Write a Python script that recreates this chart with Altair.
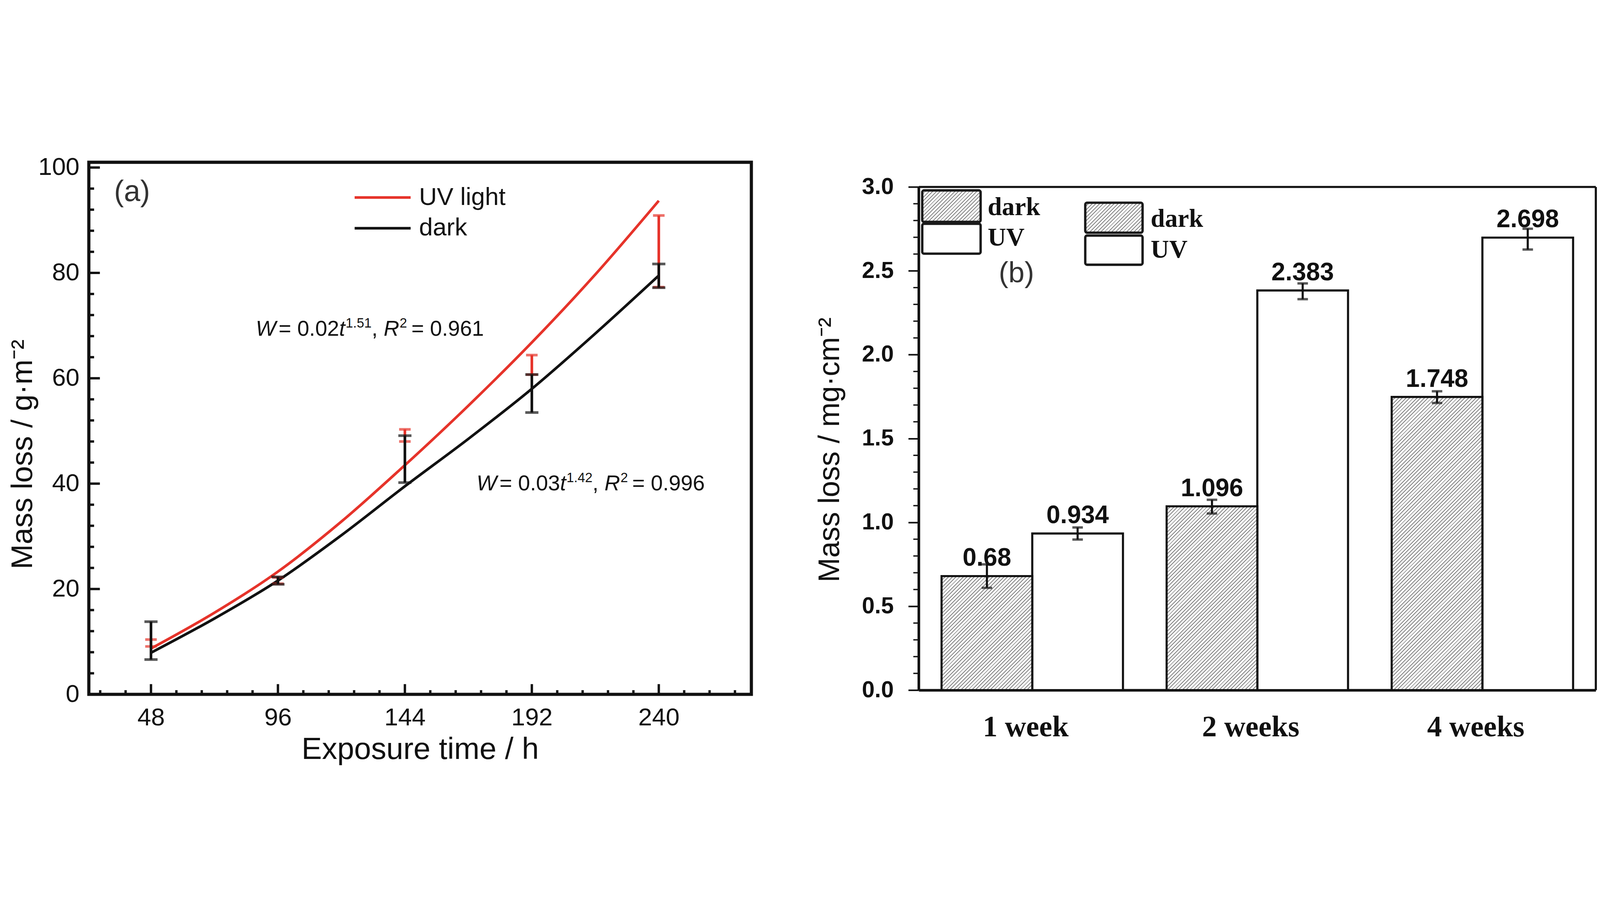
import altair as alt
import pandas as pd

# ---------------- panel (a) data ----------------
t_fit = [48, 72, 96, 120, 144, 168, 192, 216, 240]
uv_fit = [8.7, 15.5, 23.3, 32.8, 43.5, 54.8, 66.8, 79.7, 93.7]
dark_fit = [7.9, 14.4, 21.6, 30.2, 39.5, 48.5, 58.0, 68.5, 79.5]

t_meas = [48, 96, 144, 192, 240]
uv_low = [9.1, 21.0, 48.0, 60.7, 77.3]
uv_high = [10.4, 22.2, 50.3, 64.4, 90.9]
dark_low = [6.6, 20.9, 40.2, 53.5, 77.2]
dark_high = [13.8, 22.3, 49.1, 60.7, 81.7]

xa_major = [48, 96, 144, 192, 240]
xa_minor = [28.8, 38.4, 57.6, 67.2, 76.8, 86.4, 105.6, 115.2, 124.8, 134.4,
            153.6, 163.2, 172.8, 182.4, 201.6, 211.2, 220.8, 230.4, 249.6,
            259.2, 268.8]
ya_major = [0, 20, 40, 60, 80, 100]
ya_minor = [4, 8, 12, 16, 24, 28, 32, 36, 44, 48, 52, 56, 64, 68, 72, 76,
            84, 88, 92, 96]

# annotation anchors (data coordinates: t, W)
ann1_pos = (87.6, 68.1)
ann2_pos = (171.1, 38.7)

# ---------------- panel (b) data ----------------
weeks = ["1 week", "2 weeks", "4 weeks"]
series_b = ["dark", "UV"]
dark_vals = [0.68, 1.096, 1.748]
uv_vals = [0.934, 2.383, 2.698]
dark_labels = ["0.68", "1.096", "1.748"]
uv_labels = ["0.934", "2.383", "2.698"]
dark_lo = [0.61, 1.053, 1.712]
dark_hi = [0.75, 1.135, 1.782]
uv_lo = [0.898, 2.331, 2.627]
uv_hi = [0.970, 2.425, 2.751]
yb_major = [0.0, 0.5, 1.0, 1.5, 2.0, 2.5, 3.0]
yb_minor = [0.1, 0.2, 0.3, 0.4, 0.6, 0.7, 0.8, 0.9, 1.1, 1.2, 1.3, 1.4,
            1.6, 1.7, 1.8, 1.9, 2.1, 2.2, 2.3, 2.4, 2.6, 2.7, 2.8, 2.9]
yb_frame = [0.0, 3.0]

# ---------------- styling constants ----------------
WA, HA = 2520, 2025
WB, HB = 2575, 2009          # panel b area incl. 94 px above the 3.0 frame
TOPB = 94                    # px between panel top and the 3.0 frame line
YMAX_B = 3.0 * HB / (HB - TOPB)
RED = "#e6332a"
BLK = "#111111"
SANS = "Liberation Sans, Arial, sans-serif"
NARROW = "Liberation Sans Narrow, Arial Narrow, Liberation Sans, sans-serif"
SERIF = "Liberation Serif, Times New Roman, serif"

PAD_IN, PAD_OUT = 0.194, 0.101


def hatch(w, h, period=14.0, duty=0.3, color="#858585"):
    L = (w * w + h * h) / (w + h)
    n = (w + h) / period
    stops = []
    k = 0
    while k < n:
        a = round(k / n, 5)
        b = round(min((k + duty) / n, 1.0), 5)
        c = round(min((k + 1) / n, 1.0), 5)
        stops += [{"offset": a, "color": color}, {"offset": b, "color": color},
                  {"offset": b, "color": "#ffffff"}, {"offset": c, "color": "#ffffff"}]
        k += 1
    return alt.LinearGradient(gradient="linear", x1=0, y1=0,
                              x2=round(w / L, 5), y2=round(h / L, 5),
                              stops=stops)


# ================= panel (a) =================
xs_a = alt.Scale(domain=[24.5, 275], nice=False, zero=False)
ys_a = alt.Scale(domain=[0, 101], nice=False, zero=False)
ax_xa = alt.Axis(values=xa_major, title="Exposure time / h", grid=False,
                 ticks=False, tickSize=0, domain=False, labelFont=NARROW,
                 labelFontSize=94, labelColor=BLK, labelPadding=44,
                 titleFont=SANS, titleFontSize=116, titleFontWeight="normal",
                 titleColor=BLK, titlePadding=16)
ax_ya = alt.Axis(values=ya_major, title="Mass loss / g·m⁻²", grid=False,
                 ticks=False, tickSize=0, domain=False, labelFont=NARROW,
                 labelFontSize=94, labelColor=BLK, labelPadding=36,
                 titleFont=SANS, titleFontSize=114, titleFontWeight="normal",
                 titleColor=BLK, titlePadding=0, titleY=1111)


def XA(field):
    return alt.X(field, type="quantitative", scale=xs_a, axis=ax_xa)


def YA(field):
    return alt.Y(field, type="quantitative", scale=ys_a, axis=ax_ya)


fit_uv = pd.DataFrame({"t": t_fit, "w": uv_fit})
fit_dk = pd.DataFrame({"t": t_fit, "w": dark_fit})
err_uv = pd.DataFrame({"t": t_meas, "w": uv_low, "w2": uv_high})
err_dk = pd.DataFrame({"t": t_meas, "w": dark_low, "w2": dark_high})

line_uv = alt.Chart(fit_uv).mark_line(color=RED, strokeWidth=10, interpolate="monotone").encode(
    x=XA("t"), y=YA("w"))
line_dk = alt.Chart(fit_dk).mark_line(color=BLK, strokeWidth=10, interpolate="monotone").encode(
    x=XA("t"), y=YA("w"))


def errbars(df, color, cap):
    r = alt.Chart(df).mark_rule(color=color, strokeWidth=10).encode(
        x=XA("t"), y=YA("w"), y2="w2:Q")
    lo = alt.Chart(df).mark_tick(color=color, orient="horizontal", size=cap, thickness=10).encode(
        x=XA("t"), y=YA("w"))
    hi = alt.Chart(df).mark_tick(color=color, orient="horizontal", size=cap, thickness=10).encode(
        x=XA("t"), y=YA("w2"))
    return [r, lo, hi]


tick_ya_maj = alt.Chart(pd.DataFrame({"w": ya_major})).mark_rule(color=BLK, strokeWidth=9).encode(
    y=YA("w"), x=alt.value(0), x2=alt.value(42))
tick_ya_min = alt.Chart(pd.DataFrame({"w": ya_minor})).mark_rule(color=BLK, strokeWidth=9).encode(
    y=YA("w"), x=alt.value(0), x2=alt.value(20))
tick_xa_maj = alt.Chart(pd.DataFrame({"t": xa_major})).mark_rule(color=BLK, strokeWidth=9).encode(
    x=XA("t"), y=alt.value(HA), y2=alt.value(HA - 39))
tick_xa_min = alt.Chart(pd.DataFrame({"t": xa_minor})).mark_rule(color=BLK, strokeWidth=9).encode(
    x=XA("t"), y=alt.value(HA), y2=alt.value(HA - 16))

one = alt.Data(values=[{"k": 1}])
leg_a = [
    alt.Chart(one).mark_rule(color=RED, strokeWidth=10).encode(
        x=alt.value(1011), x2=alt.value(1224), y=alt.value(134)),
    alt.Chart(one).mark_rule(color=BLK, strokeWidth=10).encode(
        x=alt.value(1011), x2=alt.value(1224), y=alt.value(251)),
    alt.Chart(one).mark_text(align="left", baseline="middle", font=SANS, fontSize=94, color=BLK).encode(
        x=alt.value(1256), y=alt.value(134), text=alt.value("UV light")),
    alt.Chart(one).mark_text(align="left", baseline="middle", font=SANS, fontSize=94, color=BLK).encode(
        x=alt.value(1256), y=alt.value(251), text=alt.value("dark")),
    alt.Chart(one).mark_text(align="left", baseline="alphabetic", font=SANS, fontSize=112, color="#333333").encode(
        x=alt.value(96), y=alt.value(148), text=alt.value("(a)")),
]

# equation annotations built from pieces (text, style, extra gap after in em)
ARIAL_W = {"W": 944, "R": 722, "t": 278, " ": 278, "=": 584, ".": 278, ",": 278}
for d in "0123456789":
    ARIAL_W[d] = 556


def text_width(s, size):
    return sum(ARIAL_W.get(ch, 556) for ch in s) * size / 1000.0


def equation(pos, pieces, size=82):
    sup = size * 0.62
    layers = []
    dx = 0.0
    df = pd.DataFrame({"t": [pos[0]], "w": [pos[1]]})
    for txt, kind, gap in pieces:
        fs = sup if kind == "sup" else size
        style = "italic" if kind == "it" else "normal"
        dy = -size * 0.38 if kind == "sup" else 0
        layers.append(alt.Chart(df).mark_text(
            align="left", baseline="alphabetic", font=SANS, fontSize=fs,
            fontStyle=style, color=BLK, dx=dx, dy=dy, text=txt).encode(
            x=XA("t"), y=YA("w")))
        dx += text_width(txt, fs) + gap * size
    return layers


eq1 = equation(ann1_pos, [("W", "it", 0.12), ("= 0.02", "n", 0.0), ("t", "it", 0.02),
                          ("1.51", "sup", 0.0), (",", "n", 0.28), ("R", "it", 0.02),
                          ("2", "sup", 0.2), ("= 0.961", "n", 0.0)])
eq2 = equation(ann2_pos, [("W", "it", 0.12), ("= 0.03", "n", 0.0), ("t", "it", 0.02),
                          ("1.42", "sup", 0.0), (",", "n", 0.28), ("R", "it", 0.02),
                          ("2", "sup", 0.2), ("= 0.996", "n", 0.0)])

panel_a = alt.layer(
    tick_ya_maj, tick_ya_min, tick_xa_maj, tick_xa_min,
    line_uv, line_dk,
    *errbars(err_uv, RED, 44), *errbars(err_dk, BLK, 50),
    *leg_a, *eq1, *eq2,
).properties(width=WA, height=HA,
             view=alt.ViewBackground(stroke=BLK, strokeWidth=12, fill="white"))

# ================= panel (b) =================
bar_df = pd.DataFrame({
    "week": weeks + weeks,
    "series": ["dark"] * 3 + ["UV"] * 3,
    "val": dark_vals + uv_vals,
    "lab": dark_labels + uv_labels,
    "lo": dark_lo + uv_lo,
    "hi": dark_hi + uv_hi,
})

xs_b = alt.Scale(domain=weeks, paddingInner=PAD_IN, paddingOuter=PAD_OUT)
xo_b = alt.Scale(domain=series_b, paddingInner=0, paddingOuter=0)
ys_b = alt.Scale(domain=[0, YMAX_B], nice=False, zero=True)
ax_xb = alt.Axis(title=None, labelAngle=0, grid=False, ticks=False, tickSize=0,
                 domain=True, domainColor=BLK, domainWidth=10, labelFont=SERIF,
                 labelFontWeight="bold", labelFontSize=112, labelColor=BLK,
                 labelPadding=87, labelOffset=-25, labelLimit=0)
ax_yb = alt.Axis(values=yb_major, format=".1f", title="Mass loss / mg·cm⁻²",
                 grid=False, ticks=True, tickSize=40, tickWidth=6, tickColor=BLK,
                 domain=False, labelFont=SANS,
                 labelFontWeight="bold", labelFontSize=87, labelColor=BLK,
                 labelPadding=56, titleFont=SANS, titleFontSize=112,
                 titleFontWeight="normal", titleColor=BLK, titlePadding=80,
                 titleY=1000 + TOPB)


def XB():
    return alt.X("week:N", sort=weeks, scale=xs_b, axis=ax_xb)


def XO():
    return alt.XOffset("series:N", sort=series_b, scale=xo_b)


def YB(field):
    return alt.Y(field, type="quantitative", scale=ys_b, axis=ax_yb)


step_b = WB / (3 - PAD_IN + 2 * PAD_OUT)
bar_w = step_b * (1 - PAD_IN) / 2.0

base_b = alt.Chart(bar_df)
uv_bars = base_b.transform_filter(alt.datum.series == "UV").mark_bar(
    fill="white", stroke=BLK, strokeWidth=8).encode(x=XB(), xOffset=XO(), y=YB("val"))
dark_bars = []
for wk, v in zip(weeks, dark_vals):
    hpx = v / YMAX_B * HB
    dark_bars.append(
        base_b.transform_filter((alt.datum.series == "dark") & (alt.datum.week == wk)).mark_bar(
            fill=hatch(bar_w, hpx), stroke=BLK, strokeWidth=8).encode(
            x=XB(), xOffset=XO(), y=YB("val")))

err_rule_b = base_b.mark_rule(color=BLK, strokeWidth=8).encode(
    x=XB(), xOffset=XO(), y=YB("lo"), y2="hi:Q")
err_lo_b = base_b.mark_tick(color=BLK, orient="horizontal", size=40, thickness=9).encode(
    x=XB(), xOffset=XO(), y=YB("lo"))
err_hi_b = base_b.mark_tick(color=BLK, orient="horizontal", size=40, thickness=9).encode(
    x=XB(), xOffset=XO(), y=YB("hi"))
labels_b = base_b.mark_text(baseline="alphabetic", dy=-39, font=SANS, fontWeight="bold",
                            fontSize=95, color=BLK).encode(
    x=XB(), xOffset=XO(), y=YB("val"), text="lab:N")

minor_b = alt.Chart(pd.DataFrame({"val": yb_minor})).mark_rule(color=BLK, strokeWidth=5).encode(
    y=YB("val"), x=alt.value(-21), x2=alt.value(0))

frame_df = pd.DataFrame({"val": [yb_frame[0]], "val2": [yb_frame[1]]})
frame_left = alt.Chart(frame_df).mark_rule(color=BLK, strokeWidth=10).encode(
    y=YB("val"), y2="val2:Q", x=alt.value(0))
frame_right = alt.Chart(frame_df).mark_rule(color=BLK, strokeWidth=8).encode(
    y=YB("val"), y2="val2:Q", x=alt.value(WB))
frame_top = alt.Chart(pd.DataFrame({"val": [yb_frame[1]]})).mark_rule(color=BLK, strokeWidth=8).encode(
    y=YB("val"), x=alt.value(0), x2=alt.value(WB))


def leg_box(x1, x2, y1, y2, hatched):
    fill = hatch(x2 - x1, y2 - y1) if hatched else "white"
    return alt.Chart(one).mark_rect(fill=fill, stroke="#1a1a1a", strokeWidth=9, cornerRadius=7).encode(
        x=alt.value(x1), x2=alt.value(x2), y=alt.value(y1 + TOPB), y2=alt.value(y2 + TOPB))


def leg_text(x, y, s):
    return alt.Chart(one).mark_text(align="left", baseline="alphabetic", font=SERIF,
                                    fontWeight="bold", fontSize=97, color=BLK).encode(
        x=alt.value(x), y=alt.value(y + TOPB), text=alt.value(s))


leg_b = [
    leg_box(13, 235, 13, 133, True), leg_box(13, 235, 140, 254, False),
    leg_text(262, 107, "dark"), leg_text(262, 223, "UV"),
    leg_box(633, 851, 60, 174, True), leg_box(633, 851, 185, 296, False),
    leg_text(882, 151, "dark"), leg_text(882, 269, "UV"),
    alt.Chart(one).mark_text(align="left", baseline="alphabetic", font=SANS, fontSize=110,
                             color="#333333").encode(
        x=alt.value(304), y=alt.value(363 + TOPB), text=alt.value("(b)")),
]

panel_b = alt.layer(
    minor_b, uv_bars, *dark_bars, err_rule_b, err_lo_b, err_hi_b, labels_b,
    frame_top, frame_right, frame_left, *leg_b,
).properties(width=WB, height=HB,
             view=alt.ViewBackground(strokeWidth=0, fill="white"))

chart = alt.hconcat(panel_a, panel_b, spacing=237).properties(
    padding={"left": 12, "top": 5, "right": 0, "bottom": 0},
    background="white",
)

chart.save("out.html", embed_options={"renderer": "svg", "actions": False})
